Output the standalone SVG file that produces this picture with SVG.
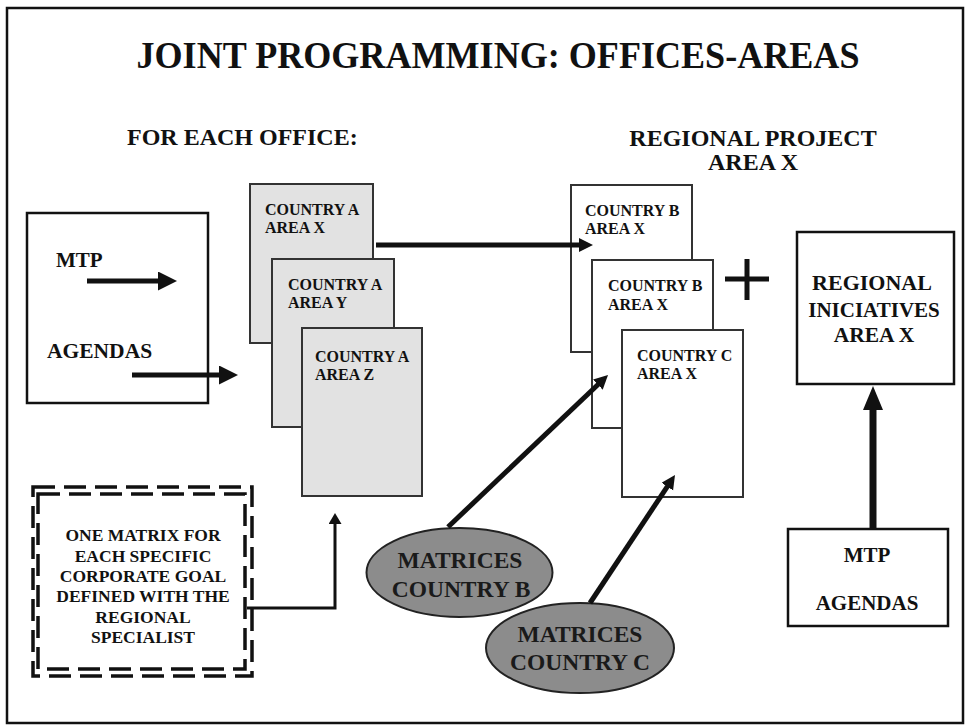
<svg xmlns="http://www.w3.org/2000/svg" width="966" height="726" viewBox="0 0 966 726">
<defs>
<style>
text{font-family:'Liberation Serif','Times New Roman','DejaVu Serif',serif;font-weight:bold;fill:#111}
.page-a{fill:#e2e2e2;stroke:#333;stroke-width:2}
.page-b{fill:#fff;stroke:#333;stroke-width:2}
.box{fill:#fff;stroke:#111;stroke-width:2.5}
.pt{font-size:16px}
.ell{fill:#8c8c8c;stroke:#222;stroke-width:2}
.et{font-size:23.5px;fill:#1a1a1a;text-anchor:middle}
.dash{fill:none;stroke:#111;stroke-width:3.5;stroke-dasharray:22 9}
.ln{fill:none;stroke:#111}
.mt{font-size:17.5px;text-anchor:middle}
.hd{font-size:24px}
</style>
<marker id="hb" markerUnits="userSpaceOnUse" markerWidth="20" markerHeight="20" refX="1" refY="9.5" orient="auto"><path d="M0,0 L19,9.5 L0,19 z" fill="#111"/></marker>
<marker id="hm" markerUnits="userSpaceOnUse" markerWidth="16" markerHeight="16" refX="1" refY="7" orient="auto"><path d="M0,0 L14,7 L0,14 z" fill="#111"/></marker>
<marker id="hs" markerUnits="userSpaceOnUse" markerWidth="14" markerHeight="14" refX="1" refY="6.5" orient="auto"><path d="M0,0 L11,6.5 L0,13 z" fill="#111"/></marker>
<marker id="ht" markerUnits="userSpaceOnUse" markerWidth="26" markerHeight="22" refX="1" refY="10" orient="auto"><path d="M0,0 L24,10 L0,20 z" fill="#111"/></marker>
</defs>
<rect x="0" y="0" width="966" height="726" fill="#fff"/>
<rect x="7" y="8" width="956" height="715" fill="none" stroke="#111" stroke-width="2.5"/>
<text x="498" y="68" font-size="38" text-anchor="middle" textLength="723" lengthAdjust="spacingAndGlyphs">JOINT PROGRAMMING: OFFICES-AREAS</text>
<text class="hd" x="127" y="145">FOR EACH OFFICE:</text>
<text class="hd" x="753" y="146" text-anchor="middle">REGIONAL PROJECT</text>
<text class="hd" x="753" y="170" text-anchor="middle">AREA X</text>

<g id="inputs-box">
<rect class="box" x="27" y="213" width="181" height="190"/>
<text x="56" y="267" font-size="21">MTP</text>
<text x="47" y="358" font-size="21.5">AGENDAS</text>
</g>

<g id="country-a-area-x">
<rect class="page-a" x="250" y="184" width="123" height="159"/>
<text class="pt" x="265" y="215">COUNTRY A</text>
<text class="pt" x="265" y="233">AREA X</text>
</g>
<g id="country-a-area-y">
<rect class="page-a" x="272" y="259" width="122" height="168"/>
<text class="pt" x="288" y="290">COUNTRY A</text>
<text class="pt" x="288" y="308">AREA Y</text>
</g>
<g id="country-a-area-z">
<rect class="page-a" x="302" y="328" width="120" height="168"/>
<text class="pt" x="315" y="362">COUNTRY A</text>
<text class="pt" x="315" y="380">AREA Z</text>
</g>

<g id="country-b-area-x-1">
<rect class="page-b" x="571" y="185" width="121" height="167"/>
<text class="pt" x="585" y="216">COUNTRY B</text>
<text class="pt" x="585" y="234">AREA X</text>
</g>
<g id="country-b-area-x-2">
<rect class="page-b" x="592" y="260" width="121" height="168"/>
<text class="pt" x="608" y="291">COUNTRY B</text>
<text class="pt" x="608" y="310">AREA X</text>
</g>
<g id="country-c-area-x">
<rect class="page-b" x="622" y="330" width="121" height="167"/>
<text class="pt" x="637" y="361">COUNTRY C</text>
<text class="pt" x="637" y="379">AREA X</text>
</g>

<g id="plus">
<path d="M725,279 H769 M747,259 V300" stroke="#111" stroke-width="5" fill="none"/>
</g>

<g id="regional-iniciatives">
<rect class="box" x="797" y="232" width="157" height="152"/>
<text x="872" y="290" font-size="22" text-anchor="middle">REGIONAL</text>
<text x="874" y="317" font-size="21" text-anchor="middle">INICIATIVES</text>
<text x="874" y="342" font-size="21.5" text-anchor="middle">AREA X</text>
</g>

<g id="mtp-agendas">
<rect class="box" x="788" y="529" width="160" height="97"/>
<text x="867" y="562" font-size="21" text-anchor="middle">MTP</text>
<text x="867" y="610" font-size="21" text-anchor="middle">AGENDAS</text>
</g>

<g id="one-matrix">
<rect class="dash" x="33" y="487" width="219" height="189"/>
<rect class="dash" x="38" y="494" width="207" height="175"/>
<text class="mt" x="143" y="541">ONE MATRIX FOR</text>
<text class="mt" x="143" y="562">EACH SPECIFIC</text>
<text class="mt" x="143" y="582">CORPORATE GOAL</text>
<text class="mt" x="143" y="602">DEFINED WITH THE</text>
<text class="mt" x="143" y="623">REGIONAL</text>
<text class="mt" x="143" y="643">SPECIALIST</text>
</g>

<g id="matrices-b">
<ellipse class="ell" cx="459.5" cy="572.5" rx="93" ry="44.5"/>
<text class="et" x="460" y="568">MATRICES</text>
<text class="et" x="461" y="597">COUNTRY B</text>
</g>
<g id="matrices-c">
<ellipse class="ell" cx="580" cy="648" rx="94" ry="45"/>
<text class="et" x="580" y="642">MATRICES</text>
<text class="et" x="580" y="670">COUNTRY C</text>
</g>

<g id="connectors">
<path class="ln" d="M87,281 H159" stroke-width="5" marker-end="url(#hb)"/>
<path class="ln" d="M132,375 H220" stroke-width="5" marker-end="url(#hb)"/>
<path class="ln" d="M376,245 H580" stroke-width="5" marker-end="url(#hm)"/>
<path class="ln" d="M448,527 L598.6,384" stroke-width="5" marker-end="url(#hm)"/>
<path class="ln" d="M590,603 L667.8,485.8" stroke-width="5" marker-end="url(#hm)"/>
<path class="ln" d="M247,608 H335 V523" stroke-width="3" marker-end="url(#hs)"/>
<path class="ln" d="M873,529 V409" stroke-width="7" marker-end="url(#ht)"/>
</g>
</svg>
